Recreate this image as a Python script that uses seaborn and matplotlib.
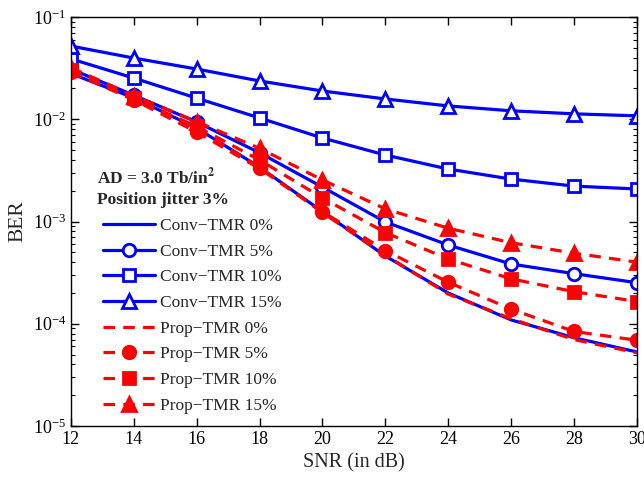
import numpy as np
import pandas as pd
import seaborn as sns
from matplotlib import pyplot as plt
from matplotlib.ticker import LogLocator, NullFormatter

snr = [12, 14, 16, 18, 20, 22, 24, 26, 28, 30]

conv_0 = [0.028, 0.0162, 0.0082, 0.0034, 0.00125, 0.00046, 0.0002, 0.000109, 7.3e-5, 5.3e-5]
conv_5 = [0.031, 0.0172, 0.0094, 0.0047, 0.00217, 0.00099, 0.000589, 0.000384, 0.000309, 0.000252]
conv_10 = [0.039, 0.0253, 0.0161, 0.0103, 0.00656, 0.00447, 0.00326, 0.0026, 0.00222, 0.00208]
conv_15 = [0.052, 0.0397, 0.031, 0.0237, 0.0189, 0.0158, 0.0135, 0.0121, 0.0113, 0.0108]
prop_0 = [0.0285, 0.016, 0.0081, 0.0034, 0.00122, 0.00047, 0.000195, 0.000112, 7.0e-5, 5.2e-5]
prop_5 = [0.029, 0.0155, 0.0075, 0.0033, 0.00125, 0.00052, 0.000255, 0.000139, 8.4e-5, 6.9e-5]
prop_10 = [0.030, 0.016, 0.0085, 0.0040, 0.0017, 0.00078, 0.00043, 0.000275, 0.000206, 0.000165]
prop_15 = [0.032, 0.017, 0.0095, 0.0052, 0.00255, 0.00133, 0.00086, 0.00062, 0.00049, 0.0004]

series = [
    ("Conv\u2212TMR 0%", conv_0, "blue", "-", None, "none"),
    ("Conv\u2212TMR 5%", conv_5, "blue", "-", "o", "white"),
    ("Conv\u2212TMR 10%", conv_10, "blue", "-", "s", "white"),
    ("Conv\u2212TMR 15%", conv_15, "blue", "-", "^", "white"),
    ("Prop\u2212TMR 0%", prop_0, "red", "--", None, "none"),
    ("Prop\u2212TMR 5%", prop_5, "red", "--", "o", "red"),
    ("Prop\u2212TMR 10%", prop_10, "red", "--", "s", "red"),
    ("Prop\u2212TMR 15%", prop_15, "red", "--", "^", "red"),
]

sns.set_style("ticks")
plt.rcParams['font.family'] = ['Liberation Serif', 'DejaVu Serif']
plt.rcParams['mathtext.fontset'] = 'stix'

fig = plt.figure(figsize=(6.44, 4.78), dpi=100)
ax = fig.add_axes([0.110, 0.1088, 0.879, 0.8556])

for label, vals, color, ls, mk, face in series:
    kw = dict(color=color, linewidth=2.3, label=label)
    if ls == "--":
        kw["dashes"] = (3.6, 2.6)
    if mk is not None:
        kw.update(marker=mk, markersize=9 if mk != "^" else 10,
                  markerfacecolor=face, markeredgecolor=color, markeredgewidth=2)
    sns.lineplot(x=snr, y=vals, ax=ax, **kw)

ax.set_yscale("log")
ax.set_xlim(12, 30)
ax.set_ylim(1e-5, 1e-1)
ax.set_xticks(snr)
ax.yaxis.set_major_locator(LogLocator(base=10, numticks=10))
ax.yaxis.set_minor_locator(LogLocator(base=10, subs=np.arange(2, 10), numticks=10))
ax.yaxis.set_minor_formatter(NullFormatter())
ax.tick_params(axis="both", which="both", direction="in", top=True, right=True,
               labelsize=13, colors="black")
ax.tick_params(which="major", length=6, width=1)
ax.tick_params(which="minor", length=3, width=0.8)
for s in ax.spines.values():
    s.set_linewidth(1)
    s.set_color("black")

ax.set_xlabel("SNR (in dB)", fontsize=14.5)
ax.set_ylabel("BER", fontsize=15.5)

ax.text(0.046, 0.609, r"AD = 3.0 Tb/in$^{\mathbf{2}}$", transform=ax.transAxes,
        fontsize=12.5, fontweight="bold", va="center", ha="left")
ax.text(0.046, 0.553, "Position jitter 3%", transform=ax.transAxes,
        fontsize=12.5, fontweight="bold", va="center", ha="left")

ax.legend(loc="upper left", bbox_to_anchor=(0.056, 0.509), frameon=False,
          borderpad=0, borderaxespad=0, fontsize=12.5, handlelength=3.0,
          handletextpad=0.3, labelspacing=0.55)

fig.savefig("out.png", dpi=100)
